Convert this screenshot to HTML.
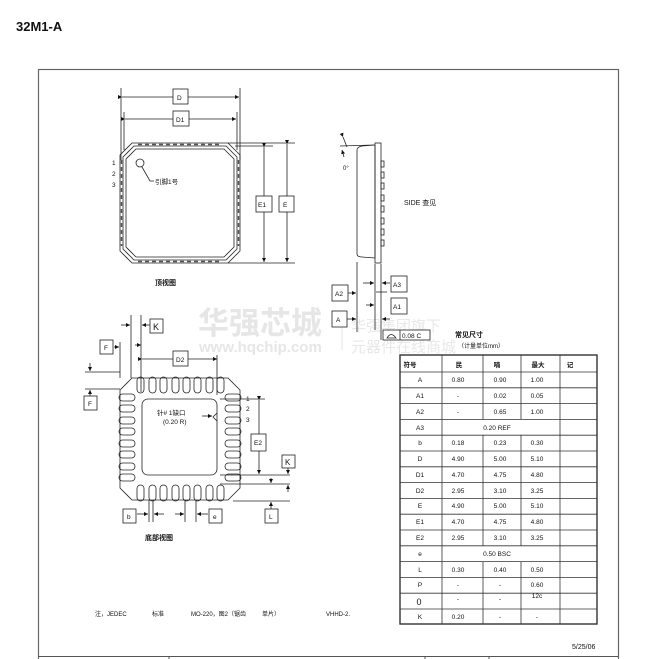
<!DOCTYPE html>
<html><head><meta charset="utf-8"><style>
body{margin:0;background:#fff;width:663px;height:659px;overflow:hidden}
svg{display:block}
text{font-family:"Liberation Sans","Noto Sans CJK SC",sans-serif;fill:#111}
</style></head><body>
<svg width="663" height="659" viewBox="0 0 663 659" xmlns="http://www.w3.org/2000/svg">
<defs><marker id="ar" markerWidth="6" markerHeight="6" refX="5" refY="3" orient="auto"><path d="M0,0.5 L5,3 L0,5.5z" fill="#111"/></marker></defs>
<text x="16" y="31" font-size="13" font-weight="bold">32M1-A</text>
<rect x="38.5" y="69.5" width="580" height="600" fill="none" stroke="#666" stroke-width="1.2"/>
<line x1="38" y1="656.5" x2="618" y2="656.5" stroke="#555"/>
<line x1="169" y1="656" x2="169" y2="659" stroke="#555"/><line x1="425" y1="656" x2="425" y2="659" stroke="#555"/><line x1="489" y1="656" x2="489" y2="659" stroke="#555"/>

<text x="198" y="334" font-size="31" font-weight="bold" style="fill:#e6e6e6">华强芯城</text>
<text x="199" y="352" font-size="15" font-weight="bold" style="fill:#e6e6e6">www.hqchip.com</text>
<line x1="342" y1="312" x2="342" y2="350" stroke="#e6e6e6"/>
<text x="351" y="331" font-size="15" style="fill:#e8e8e8">华强集团旗下</text>
<text x="351" y="352" font-size="15" style="fill:#e8e8e8">元器件在线商城</text>

<g stroke="#222" fill="none" stroke-width="0.8">
<line x1="121" y1="88" x2="121" y2="160"/><line x1="240" y1="88" x2="240" y2="160"/>
<line x1="124" y1="112" x2="124" y2="150"/><line x1="237" y1="112" x2="237" y2="150"/>
<line x1="122" y1="97" x2="239" y2="97" marker-start="url(#ar)" marker-end="url(#ar)"/>
<line x1="125" y1="119" x2="236" y2="119" marker-start="url(#ar)" marker-end="url(#ar)"/>
<path d="M132,143 H228 L240,155 V251 L228,263 H132 L120,251 V155 Z"/>
<path d="M134,146 H226 L237,157 V249 L226,260 H134 L123,249 V157 Z"/>
<path d="M136,149 H224 L234,159 V247 L224,257 H136 L126,247 V159 Z"/>
<line x1="138" y1="144.5" x2="222" y2="144.5" stroke-dasharray="4,3" stroke-width="1.5" stroke="#555"/>
<line x1="138" y1="261.5" x2="222" y2="261.5" stroke-dasharray="4,3" stroke-width="1.5" stroke="#555"/>
<line x1="121.5" y1="160" x2="121.5" y2="246" stroke-dasharray="4,3" stroke-width="1.5" stroke="#555"/>
<line x1="238.5" y1="160" x2="238.5" y2="246" stroke-dasharray="4,3" stroke-width="1.5" stroke="#555"/>
<circle cx="140" cy="163" r="4"/>
<path d="M142,167 L150,181 H154"/>
<line x1="228" y1="143" x2="295" y2="143"/><line x1="235" y1="146" x2="273" y2="146"/>
<line x1="228" y1="263" x2="295" y2="263"/>
<line x1="264" y1="147" x2="264" y2="262" marker-start="url(#ar)" marker-end="url(#ar)"/>
<line x1="287" y1="144" x2="287" y2="262" marker-start="url(#ar)" marker-end="url(#ar)"/>
<rect x="173" y="89" width="15" height="15" fill="#fff"/>
<rect x="173" y="111" width="16" height="15" fill="#fff"/>
<rect x="256" y="196" width="16" height="16" fill="#fff"/>
<rect x="279" y="196" width="15" height="16" fill="#fff"/>

<path d="M357,150 Q357,147 362,146 L375,145 V258 L362,257 Q357,257 357,254 Z"/>
<rect x="375" y="143" width="6" height="120"/>
<line x1="340" y1="146" x2="374" y2="145"/>
<line x1="343" y1="137" x2="347" y2="147" marker-start="url(#ar)"/>
<line x1="344" y1="157" x2="342" y2="150" marker-end="url(#ar)"/>
<g>
<rect x="381" y="161" width="3" height="6"/><rect x="381" y="172" width="3" height="6"/><rect x="381" y="183" width="3" height="6"/><rect x="381" y="195" width="3" height="6"/><rect x="381" y="206" width="3" height="6"/><rect x="381" y="218" width="3" height="6"/><rect x="381" y="229" width="3" height="6"/><rect x="381" y="240" width="3" height="6"/>
</g>
<line x1="357" y1="262" x2="357" y2="332"/>
<line x1="375" y1="264" x2="375" y2="330"/>
<line x1="381" y1="264" x2="381" y2="340"/>
<line x1="376" y1="292" x2="387" y2="292"/>
<line x1="363" y1="283" x2="374" y2="283" marker-end="url(#ar)"/>
<line x1="390" y1="283" x2="382" y2="283" marker-end="url(#ar)"/>
<line x1="366" y1="305" x2="374" y2="305" marker-end="url(#ar)"/>
<line x1="390" y1="319" x2="382" y2="319" marker-end="url(#ar)"/>
<line x1="348" y1="293" x2="356" y2="293" marker-end="url(#ar)"/>
<line x1="347" y1="319" x2="356" y2="319" marker-end="url(#ar)"/>
<rect x="332" y="285" width="16" height="16" fill="#fff"/>
<rect x="332" y="311" width="15" height="16" fill="#fff"/>
<rect x="391" y="276" width="16" height="16" fill="#fff"/>
<rect x="391" y="298" width="16" height="16" fill="#fff"/>
<rect x="383" y="330" width="47" height="10" fill="#fff"/>
<line x1="400" y1="330" x2="400" y2="340"/>
<path d="M387,338 Q391,331 396,338 Z"/>

<path d="M132,378 H228 L240,390 V488 L228,500 H132 L120,488 V390 Z"/>
<rect x="142" y="399" width="75" height="76" rx="6"/>
<path d="M217,413 L213,417 L217,421"/>
<g>
<rect x="137" y="377" width="7" height="16" rx="3.5"/><rect x="149" y="377" width="7" height="16" rx="3.5"/><rect x="160" y="377" width="7" height="16" rx="3.5"/><rect x="172" y="377" width="7" height="16" rx="3.5"/><rect x="183" y="377" width="7" height="16" rx="3.5"/><rect x="194" y="377" width="7" height="16" rx="3.5"/><rect x="206" y="377" width="7" height="16" rx="3.5"/><rect x="217" y="377" width="7" height="16" rx="3.5"/>
<rect x="137" y="485" width="7" height="16" rx="3.5"/><rect x="149" y="485" width="7" height="16" rx="3.5"/><rect x="160" y="485" width="7" height="16" rx="3.5"/><rect x="172" y="485" width="7" height="16" rx="3.5"/><rect x="183" y="485" width="7" height="16" rx="3.5"/><rect x="194" y="485" width="7" height="16" rx="3.5"/><rect x="206" y="485" width="7" height="16" rx="3.5"/><rect x="217" y="485" width="7" height="16" rx="3.5"/>
<rect x="119" y="394" width="16" height="7" rx="3.5"/><rect x="119" y="405" width="16" height="7" rx="3.5"/><rect x="119" y="417" width="16" height="7" rx="3.5"/><rect x="119" y="428" width="16" height="7" rx="3.5"/><rect x="119" y="440" width="16" height="7" rx="3.5"/><rect x="119" y="451" width="16" height="7" rx="3.5"/><rect x="119" y="463" width="16" height="7" rx="3.5"/><rect x="119" y="474" width="16" height="7" rx="3.5"/>
<rect x="225" y="394" width="16" height="7" rx="3.5"/><rect x="225" y="405" width="16" height="7" rx="3.5"/><rect x="225" y="417" width="16" height="7" rx="3.5"/><rect x="225" y="428" width="16" height="7" rx="3.5"/><rect x="225" y="440" width="16" height="7" rx="3.5"/><rect x="225" y="451" width="16" height="7" rx="3.5"/><rect x="225" y="463" width="16" height="7" rx="3.5"/><rect x="225" y="474" width="16" height="7" rx="3.5"/>
</g>
<line x1="131" y1="315" x2="131" y2="378"/><line x1="141" y1="315" x2="141" y2="392"/>
<line x1="121" y1="325" x2="130" y2="325" marker-end="url(#ar)"/>
<line x1="150" y1="325" x2="142" y2="325" marker-end="url(#ar)"/>
<line x1="135" y1="345" x2="141" y2="345" marker-end="url(#ar)"/>
<line x1="120" y1="342" x2="120" y2="378"/>
<line x1="114" y1="347" x2="119" y2="347" marker-end="url(#ar)"/>
<line x1="142" y1="359" x2="217" y2="359" marker-start="url(#ar)" marker-end="url(#ar)"/>
<line x1="217" y1="355" x2="217" y2="395"/>
<line x1="85" y1="372" x2="120" y2="372"/><line x1="85" y1="389" x2="120" y2="389"/>
<line x1="90" y1="363" x2="90" y2="371" marker-end="url(#ar)"/>
<line x1="90" y1="397" x2="90" y2="390" marker-end="url(#ar)"/>
<line x1="220" y1="399" x2="265" y2="399"/><line x1="220" y1="475" x2="290" y2="475"/>
<line x1="220" y1="484" x2="290" y2="484"/><line x1="233" y1="501" x2="290" y2="501"/>
<line x1="259" y1="400" x2="259" y2="474" marker-start="url(#ar)" marker-end="url(#ar)"/>
<line x1="288" y1="468" x2="288" y2="474" marker-end="url(#ar)"/>
<line x1="271" y1="478" x2="271" y2="483" marker-end="url(#ar)"/>
<line x1="288" y1="492" x2="288" y2="485" marker-end="url(#ar)"/>
<line x1="271" y1="509" x2="271" y2="502" marker-end="url(#ar)"/>
<line x1="149" y1="500" x2="149" y2="522"/><line x1="153" y1="500" x2="153" y2="522"/>
<line x1="185" y1="500" x2="185" y2="522"/><line x1="196" y1="500" x2="196" y2="522"/>
<line x1="137" y1="514" x2="148" y2="514" marker-end="url(#ar)"/>
<line x1="164" y1="514" x2="154" y2="514" marker-end="url(#ar)"/>
<line x1="175" y1="514" x2="184" y2="514" marker-end="url(#ar)"/>
<line x1="208" y1="514" x2="197" y2="514" marker-end="url(#ar)"/>
<line x1="202" y1="416" x2="212" y2="416" marker-end="url(#ar)"/>
<rect x="150" y="319" width="13" height="14" fill="#fff"/>
<rect x="100" y="340" width="13" height="14" fill="#fff"/>
<rect x="173" y="351" width="15" height="15" fill="#fff"/>
<rect x="84" y="396" width="13" height="14" fill="#fff"/>
<rect x="251" y="434" width="15" height="17" fill="#fff"/>
<rect x="282" y="455" width="13" height="13" fill="#fff"/>
<rect x="265" y="509" width="13" height="14" fill="#fff"/>
<rect x="123" y="509" width="13" height="14" fill="#fff"/>
<rect x="209" y="509" width="13" height="14" fill="#fff"/>
</g>

<g font-size="6.5">
<text x="177" y="100">D</text><text x="176" y="122">D1</text>
<text x="258" y="207">E1</text><text x="283" y="207">E</text>
<text x="112" y="165">1</text><text x="112" y="176">2</text><text x="112" y="187">3</text>
<text x="155" y="184">引脚1号</text>
<text x="155" y="285" font-size="7" font-weight="bold">顶视图</text>
<text x="343" y="170" font-size="6">0°</text>
<text x="404" y="205" font-size="7">SIDE  查见</text>
<text x="335" y="296">A2</text><text x="336" y="322">A</text>
<text x="393" y="287">A3</text><text x="393" y="309">A1</text>
<text x="402" y="338">0.08 C</text>
<text x="455" y="337" font-size="7" font-weight="bold">常见尺寸</text>
<text x="458" y="348" font-size="6">（计量单位mm）</text>
<text x="153" y="330" font-size="9">K</text>
<text x="104" y="350">F</text><text x="88" y="406">F</text>
<text x="176" y="362">D2</text>
<text x="254" y="445">E2</text>
<text x="285" y="465" font-size="8">K</text>
<text x="269" y="519">L</text><text x="127" y="519">b</text><text x="213" y="519">e</text>
<text x="246" y="401">1</text><text x="246" y="411">2</text><text x="246" y="422">3</text>
<text x="157" y="415">针#  1缺口</text><text x="163" y="424">(0.20 R)</text>
<text x="145" y="540" font-size="7" font-weight="bold">底部视图</text>
<text x="95" y="616" font-size="6">注，JEDEC</text><text x="152" y="616" font-size="6">标准</text>
<text x="191" y="616" font-size="6">MO-220，图2（锯齿</text><text x="262" y="616" font-size="6">单片）</text>
<text x="326" y="616" font-size="6">VHHD-2.</text>
<text x="572" y="649" font-size="7">5/25/06</text>
</g>

<g stroke="#333" stroke-width="0.8" fill="none">
<rect x="400" y="355" width="197" height="269" stroke-width="1.4"/>
<line x1="400" y1="372" x2="597" y2="372"/>
<line x1="400" y1="387.8" x2="597" y2="387.8"/><line x1="400" y1="403.6" x2="597" y2="403.6"/><line x1="400" y1="419.4" x2="597" y2="419.4"/><line x1="400" y1="435.2" x2="597" y2="435.2"/><line x1="400" y1="451" x2="597" y2="451"/><line x1="400" y1="466.8" x2="597" y2="466.8"/><line x1="400" y1="482.6" x2="597" y2="482.6"/><line x1="400" y1="498.4" x2="597" y2="498.4"/><line x1="400" y1="514.2" x2="597" y2="514.2"/><line x1="400" y1="530" x2="597" y2="530"/><line x1="400" y1="545.8" x2="597" y2="545.8"/><line x1="400" y1="561.6" x2="597" y2="561.6"/><line x1="400" y1="577.4" x2="597" y2="577.4"/><line x1="400" y1="593.2" x2="597" y2="593.2"/><line x1="400" y1="609" x2="597" y2="609"/>
<line x1="442" y1="355" x2="442" y2="624"/><line x1="560" y1="355" x2="560" y2="624"/>
<line x1="483" y1="355" x2="483" y2="419.4"/><line x1="521" y1="355" x2="521" y2="419.4"/>
<line x1="483" y1="435.2" x2="483" y2="545.8"/><line x1="521" y1="435.2" x2="521" y2="545.8"/>
<line x1="483" y1="561.6" x2="483" y2="624"/><line x1="521" y1="561.6" x2="521" y2="624"/>
</g>
<g font-size="6.5" text-anchor="middle">
<text x="410" y="367" font-weight="bold">符号</text><text x="459" y="367" font-weight="bold">民</text><text x="497" y="367" font-weight="bold">喃</text><text x="538" y="367" font-weight="bold">最大</text><text x="570" y="367" font-weight="bold">记</text>
<text x="420" y="382">A</text><text x="458" y="382">0.80</text><text x="500" y="382">0.90</text><text x="537" y="382">1.00</text>
<text x="420" y="398">A1</text><text x="458" y="398">-</text><text x="500" y="398">0.02</text><text x="537" y="398">0.05</text>
<text x="420" y="414">A2</text><text x="458" y="414">-</text><text x="500" y="414">0.65</text><text x="537" y="414">1.00</text>
<text x="420" y="430">A3</text><text x="497" y="430">0.20 REF</text>
<text x="420" y="445">b</text><text x="458" y="445">0.18</text><text x="500" y="445">0.23</text><text x="537" y="445">0.30</text>
<text x="420" y="461">D</text><text x="458" y="461">4.90</text><text x="500" y="461">5.00</text><text x="537" y="461">5.10</text>
<text x="420" y="477">D1</text><text x="458" y="477">4.70</text><text x="500" y="477">4.75</text><text x="537" y="477">4.80</text>
<text x="420" y="493">D2</text><text x="458" y="493">2.95</text><text x="500" y="493">3.10</text><text x="537" y="493">3.25</text>
<text x="420" y="508">E</text><text x="458" y="508">4.90</text><text x="500" y="508">5.00</text><text x="537" y="508">5.10</text>
<text x="420" y="524">E1</text><text x="458" y="524">4.70</text><text x="500" y="524">4.75</text><text x="537" y="524">4.80</text>
<text x="420" y="540">E2</text><text x="458" y="540">2.95</text><text x="500" y="540">3.10</text><text x="537" y="540">3.25</text>
<text x="420" y="556">e</text><text x="497" y="556">0.50 BSC</text>
<text x="420" y="572">L</text><text x="458" y="572">0.30</text><text x="500" y="572">0.40</text><text x="537" y="572">0.50</text>
<text x="420" y="587">P</text><text x="458" y="587">-</text><text x="500" y="587">-</text><text x="537" y="587">0.60</text>
<text x="419" y="605" font-size="9">0</text><text x="458" y="601">-</text><text x="500" y="601">-</text><text x="537" y="598">12c</text>
<text x="420" y="619">K</text><text x="458" y="619">0.20</text><text x="500" y="619">-</text><text x="537" y="619">-</text>
</g>
</svg>
</body></html>
